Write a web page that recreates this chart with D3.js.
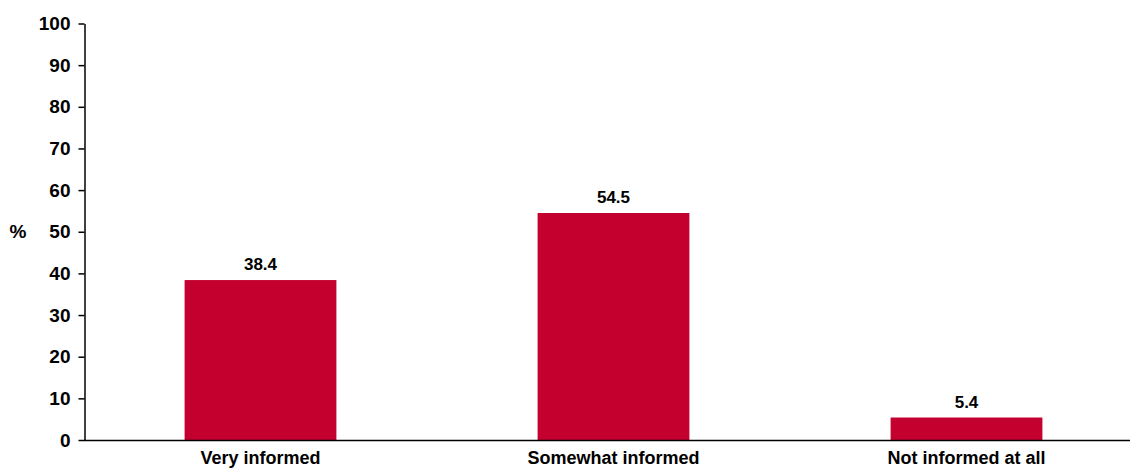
<!DOCTYPE html>
<html><head><meta charset="utf-8">
<script src="https://cdn.jsdelivr.net/npm/d3@7"></script>
<style>body{margin:0;background:#fff;} text{font-family:"Liberation Sans Narrow","Arial Narrow",sans-serif;font-weight:bold;fill:#000;}</style>
</head><body><svg id="c" width="1130" height="469"></svg>
<script>
const categories = ["Very informed", "Somewhat informed", "Not informed at all"];
const values = [38.4, 54.5, 5.4];
const yTicks = [0,10,20,30,40,50,60,70,80,90,100];

const svg = d3.select("#c");
const x = d3.scaleBand().domain(categories).range([84, 1143]).paddingInner(0.57).paddingOuter(0.285);
const y = d3.scaleLinear().domain([0,100]).range([440, 23.5]);

// bars
svg.selectAll("rect.bar").data(values).enter().append("rect")
  .attr("x",(d,i)=>x(categories[i])).attr("width",x.bandwidth())
  .attr("y",d=>y(d)).attr("height",d=>y(0)-y(d)).attr("fill","#C4002F");

// value labels
svg.selectAll("text.val").data(values).enter().append("text")
  .attr("x",(d,i)=>x(categories[i])+x.bandwidth()/2).attr("y",d=>y(d)-10)
  .attr("text-anchor","middle").style("font-size","17px").text(d=>d.toFixed(1));

// y axis
const yAxis = d3.axisLeft(y).tickValues(yTicks).tickSize(6).tickSizeOuter(0).tickPadding(8);
const gy = svg.append("g").attr("transform","translate(84.5,0)").call(yAxis);
gy.select(".domain").attr("stroke","#000").attr("stroke-width",1.5);
gy.selectAll(".tick line").attr("stroke","#000").attr("stroke-width",1.5);
gy.selectAll(".tick text").style("font-size","19px").style("font-family","'Liberation Sans Narrow','Arial Narrow',sans-serif").style("font-weight","bold").attr("fill","#000");

// x axis
const xAxis = d3.axisBottom(x).tickSize(0).tickSizeOuter(0).tickPadding(11);
const gx = svg.append("g").attr("transform","translate(0,440.5)").call(xAxis);
gx.select(".domain").attr("stroke","#000").attr("stroke-width",1.5).attr("d","M84,0H1130");
gx.selectAll(".tick text").style("font-size","18px").style("font-family","'Liberation Sans Narrow','Arial Narrow',sans-serif").style("font-weight","bold").attr("fill","#000");

// y label
svg.append("text").attr("x",18).attr("y",238).attr("text-anchor","middle").style("font-size","19px").text("%");
</script></body></html>
